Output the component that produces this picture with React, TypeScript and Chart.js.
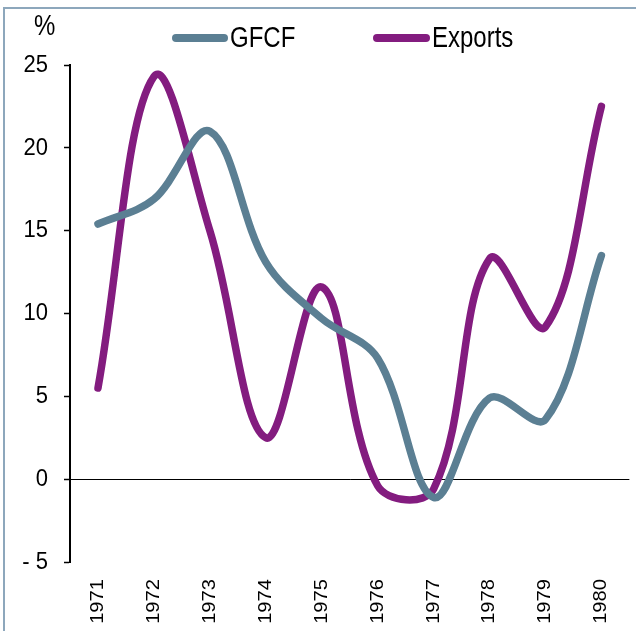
import React, { useEffect, useRef } from "react";
import { Chart, registerables } from "chart.js";

Chart.register(...registerables);

const years = ["1971", "1972", "1973", "1974", "1975", "1976", "1977", "1978", "1979", "1980"];
const gfcf = [15.4, 16.9, 21.0, 13.1, 9.7, 7.3, -1.1, 4.9, 3.6, 13.5];
const exportsData = [5.5, 24.3, 15.0, 2.5, 11.6, -0.4, -0.6, 13.3, 9.2, 22.5];
const yMin = -5;
const yMax = 25;
const yStep = 5;

const GFCF_COLOR = "#5b7f93";
const EXPORTS_COLOR = "#831c7f";
const FONT = "'Liberation Sans', Arial, sans-serif";

// vertical stretch applied to text glyphs (the reference text is taller than wide)
let textStretch = 1.12;

function patchContext(ctx: any) {
  if (ctx.__patched) return;
  ctx.__patched = true;
  const orig = ctx.fillText.bind(ctx);
  ctx.fillText = (text: string, x: number, y: number, maxWidth?: number) => {
    const m = ctx.getTransform();
    const sx = m.a * x + m.c * y + m.e;
    const sy = m.b * x + m.d * y + m.f;
    ctx.save();
    ctx.setTransform(1, 0, 0, 1, 0, 0);
    ctx.translate(sx, sy);
    ctx.scale(1, textStretch);
    ctx.transform(m.a, m.b, m.c, m.d, 0, 0);
    if (maxWidth === undefined) orig(text, 0, 0);
    else orig(text, 0, 0, maxWidth);
    ctx.restore();
  };
}

const legendPlugin = {
  id: "customLegend",
  afterDraw(chart: any) {
    const ctx = chart.ctx;
    ctx.save();
    const prev = textStretch;
    textStretch = 1.25;
    ctx.font = `24px ${FONT}`;
    ctx.fillStyle = "#000";
    ctx.textBaseline = "middle";
    ctx.textAlign = "left";
    ctx.fillText("%", 34, 27);
    const items = [
      { label: "GFCF", color: GFCF_COLOR, x0: 176, x1: 224 },
      { label: "Exports", color: EXPORTS_COLOR, x0: 377, x1: 426 },
    ];
    const y = 38;
    for (const it of items) {
      ctx.beginPath();
      ctx.lineCap = "round";
      ctx.lineWidth = 8;
      ctx.strokeStyle = it.color;
      ctx.moveTo(it.x0, y);
      ctx.lineTo(it.x1, y);
      ctx.stroke();
      ctx.fillText(it.label, it.x1 + 6, y + 1);
    }
    textStretch = prev;
    ctx.restore();
  },
};

export default function App() {
  const ref = useRef<HTMLCanvasElement | null>(null);
  useEffect(() => {
    if (!ref.current) return;
    patchContext(ref.current.getContext("2d"));
    const chart = new Chart(ref.current, {
      type: "line",
      data: {
        labels: years,
        datasets: [
          {
            label: "GFCF",
            data: gfcf,
            borderColor: GFCF_COLOR,
            borderWidth: 7.5,
            pointRadius: 0,
            tension: 0.35,
            borderCapStyle: "round",
            borderJoinStyle: "round",
            fill: false,
          },
          {
            label: "Exports",
            data: exportsData,
            borderColor: EXPORTS_COLOR,
            borderWidth: 7.5,
            pointRadius: 0,
            tension: 0.38,
            borderCapStyle: "round",
            borderJoinStyle: "round",
            fill: false,
          },
        ],
      },
      options: {
        responsive: false,
        animation: false,
        layout: { padding: { top: 65, left: 0, right: 0, bottom: 0 } },
        plugins: { legend: { display: false }, tooltip: { enabled: false } },
        elements: { line: { capBezierPoints: false } },
        scales: {
          x: {
            offset: true,
            border: { display: false },
            grid: { display: false, drawTicks: false },
            ticks: {
              minRotation: 90,
              maxRotation: 90,
              padding: 17,
              color: "#000",
              font: { family: FONT, size: 18 },
            },
            afterFit(scale: any) {
              scale.height = 69;
            },
          },
          y: {
            min: yMin,
            max: yMax,
            border: { display: true, color: "#000", width: 2 },
            grid: {
              drawOnChartArea: true,
              drawTicks: true,
              tickLength: 6,
              tickColor: "#000",
              tickWidth: 1.5,
              lineWidth: 1,
              color: (c: any) => (c.tick && c.tick.value === 0 ? "#000" : "rgba(0,0,0,0)"),
            },
            ticks: {
              stepSize: yStep,
              padding: 16,
              color: "#000",
              font: { family: FONT, size: 22 },
              callback: (v: any) => (Number(v) < 0 ? "- " + Math.abs(Number(v)) : String(v)),
            },
            afterFit(scale: any) {
              scale.width = 70;
            },
          },
        },
      },
      plugins: [legendPlugin],
    } as any);
    return () => chart.destroy();
  }, []);

  return (
    <div
      style={{
        position: "fixed",
        left: 0,
        top: 0,
        width: 636,
        height: 631,
        overflow: "hidden",
        background: "#fff",
      }}
    >
      <div
        style={{
          position: "absolute",
          left: 3,
          top: 7,
          width: 700,
          height: 700,
          border: "2px solid #8da7bc",
          boxSizing: "border-box",
        }}
      />
      <canvas ref={ref} width={640} height={631} style={{ position: "absolute", left: 0, top: 0 }} />
    </div>
  );
}
